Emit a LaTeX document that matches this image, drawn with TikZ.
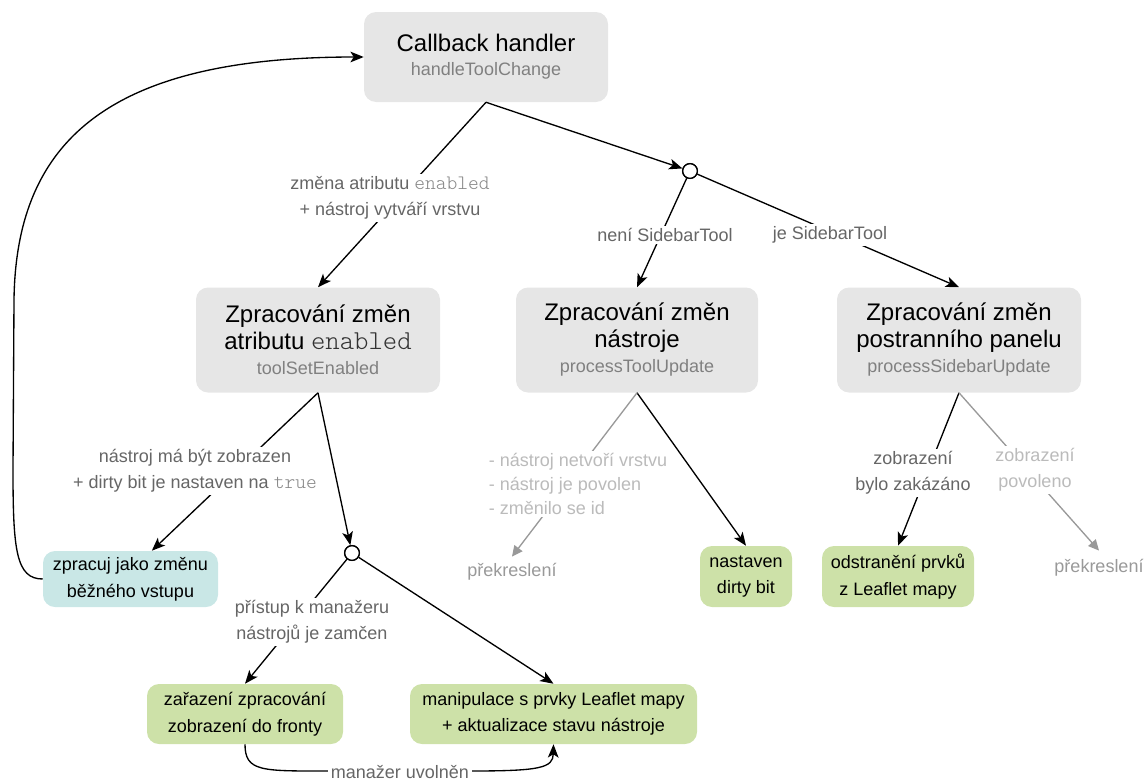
\documentclass[tikz,border=0pt]{standalone}
\usepackage{fontspec}
\setmainfont{Liberation Sans}
\newfontfamily\codefont{Latin Modern Mono Light}[Scale=1.14]
\usetikzlibrary{arrows.meta,calc}
\definecolor{procgray}{HTML}{E6E6E6}
\definecolor{tealc}{HTML}{C9E7E6}
\definecolor{greenc}{HTML}{CDE1A8}
\definecolor{subgray}{HTML}{808080}
\definecolor{lblgray}{HTML}{666666}
\definecolor{lightlbl}{HTML}{BBBBBB}
\definecolor{prekc}{HTML}{999999}
\definecolor{edgegray}{HTML}{999999}
\definecolor{codegray}{HTML}{888888}
\definecolor{codedark}{HTML}{333333}
\newcommand{\ttlfont}{\fontsize{18}{22.5}\selectfont}
\newcommand{\subfont}{\fontsize{13.5}{16}\selectfont\color{subgray}}
\newcommand{\code}[1]{{\codefont #1}}
\begin{document}
\begin{tikzpicture}[x=0.75pt,y=-0.75pt,
  box/.style={rounded corners=9pt, align=center, inner sep=0pt, text=black, font=\fontsize{13.5}{20}\selectfont},
  grayb/.style={box, fill=procgray},
  tealb/.style={box, fill=tealc},
  greenb/.style={box, fill=greenc},
  junc/.style={circle, draw=black, fill=white, line width=1pt, minimum size=11pt, inner sep=0pt},
  arr/.style={draw=black, line width=1pt, -{Stealth[length=10pt,width=8pt,inset=2.5pt]}},
  garr/.style={draw=edgegray, line width=1pt, -{Triangle[length=8pt,width=7.5pt,fill=edgegray]}},
  lbl/.style={fill=white, text=lblgray, align=center, inner sep=2pt, font=\fontsize{13.5}{19.5}\selectfont},
  llbl/.style={lbl, text=lightlbl},
  prekr/.style={text=prekc, inner sep=2pt, font=\fontsize{13.5}{16}\selectfont}
]
\useasboundingbox (0,0) rectangle (1146,782);

% main boxes
\node[grayb, minimum width=183pt, minimum height=67.5pt] (cb) at (486,57)
  {\ttlfont Callback handler\\[-2pt]\subfont handleToolChange};
\node[grayb, minimum width=183pt, minimum height=78.75pt] (attr) at (318,340)
  {\ttlfont Zpracování změn\\\ttlfont atributu {\color{codedark}\code{enabled}}\\[-1pt]\subfont toolSetEnabled};
\node[grayb, minimum width=181.5pt, minimum height=78.75pt] (tool) at (637,340)
  {\ttlfont Zpracování změn\\\ttlfont nástroje\\[-1pt]\subfont processToolUpdate};
\node[grayb, minimum width=183pt, minimum height=78.75pt] (side) at (959,340)
  {\ttlfont Zpracování změn\\\ttlfont postranního panelu\\[-1pt]\subfont processSidebarUpdate};

\node[tealb, minimum width=131.25pt, minimum height=42pt] (zpr) at (130.5,579) {zpracuj jako změnu\\běžného vstupu};
\node[greenb, minimum width=69pt, minimum height=45.75pt] (dirty) at (746,576.5) {nastaven\\dirty bit};
\node[greenb, minimum width=114pt, minimum height=45.75pt] (odst) at (898,576.5) {odstranění prvků\\z Leaflet mapy};
\node[greenb, minimum width=147pt, minimum height=45pt] (zar) at (245,714) {zařazení zpracování\\zobrazení do fronty};
\node[greenb, minimum width=215.25pt, minimum height=45pt] (manip) at (553.5,714) {manipulace s prvky Leaflet mapy\\+ aktualizace stavu nástroje};

\node[prekr] (prek1) at (512,572) {překreslení};
\node[prekr] (prek2) at (1099,568) {překreslení};

\node[junc] (c1) at (690,171) {};
\node[junc] (c2) at (352,553) {};

% edges
\draw[arr] (cb.south) -- (attr.north);
\draw[arr] (cb.south) -- (c1);
\draw[arr] (c1) -- (tool.north);
\draw[arr] (c1) -- (side.north);
\draw[arr] (attr.south) -- ([xshift=16pt]zpr.north);
\draw[arr] (attr.south) -- (c2);
\draw[arr] (c2) -- (zar.north);
\draw[arr] (c2) -- (manip.north);
\draw[arr] (tool.south) -- (dirty.north);
\draw[garr] (tool.south) -- ($(prek1.north)+(0,-4)$);
\draw[arr] (side.south) -- (odst.north);
\draw[garr] (side.south) -- ($(prek2.north)+(0,-6)$);
\draw[arr] (zar.south) .. controls (245,772) and (262,771) .. (330,771) -- (470,771) .. controls (540,771) and (553,768) .. (manip.south);
\draw[arr] (zpr.west) .. controls (16,579) and (13,550) .. (13,470) -- (14,300) .. controls (16,140) and (110,57) .. (cb.west);

\node[junc] at (c1) {};
\node[junc] at (c2) {};

% labels
\node[lbl] (l1) at (390,198) {změna atributu {\color{codegray}\code{enabled}}\\+ nástroj vytváří vrstvu};
\node[lbl] (l2) at (665,235) {není SidebarTool};
\node[lbl] (l3) at (830,235) {je SidebarTool};
\node[lbl] (l4) at (195,471) {nástroj má být zobrazen\\+ dirty bit je nastaven na {\color{codegray}\code{true}}};
\node[lbl] (l5) at (312,622) {přístup k manažeru\\nástrojů je zamčen};
\node[lbl] (l6) at (400,772) {manažer uvolněn};
\node[llbl, align=left, font=\fontsize{13.5}{18}\selectfont] (l7) at (578,484) {- nástroj netvoří vrstvu\\- nástroj je povolen\\- změnilo se id};
\node[lbl] (l8) at (913,473) {zobrazení\\bylo zakázáno};
\node[llbl] (l9) at (1035,470) {zobrazení\\povoleno};
\end{tikzpicture}
\end{document}
